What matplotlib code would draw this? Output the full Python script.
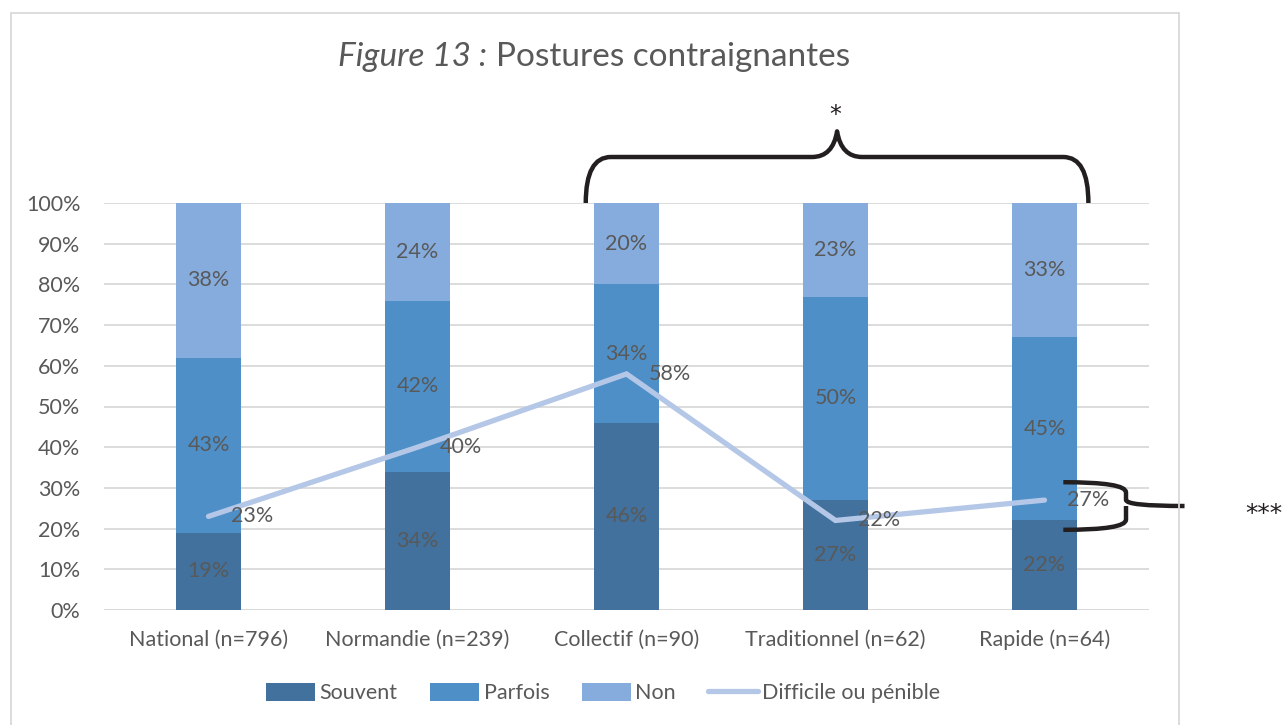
import numpy as np
import matplotlib
matplotlib.use('Agg')
import matplotlib.pyplot as plt
from matplotlib.patches import Rectangle, PathPatch
from matplotlib.path import Path

plt.rcParams['font.family'] = ['Lato', 'DejaVu Sans']

# données
categories = ['National (n=796)', 'Normandie (n=239)', 'Collectif (n=90)',
              'Traditionnel (n=62)', 'Rapide (n=64)']
souvent = [19, 34, 46, 27, 22]
parfois = [43, 42, 34, 50, 45]
non = [38, 24, 20, 23, 33]
difficile = [23, 40, 58, 22, 27]

c_souvent = '#41719C'
c_parfois = '#4E8FC8'
c_non = '#85ACDD'
c_line = '#B4C7E7'
c_txt = '#595959'
fs = 15.5

W, H = 1287, 725
fig = plt.figure(figsize=(W / 100, H / 100), dpi=100)
ax = fig.add_axes([104 / W, 1 - 610 / H, (1149 - 104) / W, (610 - 203) / H])

x = np.arange(len(categories))
bw = 0.315
b1 = ax.bar(x, souvent, bw, color=c_souvent, label='Souvent', zorder=2)
bot2 = np.array(souvent)
b2 = ax.bar(x, parfois, bw, bottom=bot2, color=c_parfois, label='Parfois', zorder=2)
bot3 = bot2 + np.array(parfois)
b3 = ax.bar(x, non, bw, bottom=bot3, color=c_non, label='Non', zorder=2)
ln, = ax.plot(x, difficile, color=c_line, lw=3.8, solid_capstyle='round',
              solid_joinstyle='miter', label='Difficile ou pénible', zorder=3)

# étiquettes des barres
for vals, bots in [(souvent, np.zeros(5)), (parfois, bot2), (non, bot3)]:
    for i, (v, b) in enumerate(zip(vals, bots)):
        ax.text(i, b + v / 2, f'{v}%', ha='center', va='center',
                fontsize=fs, color=c_txt, zorder=4)
for i, v in enumerate(difficile):
    ax.annotate(f'{v}%', (i, v), xytext=(16, 0), textcoords='offset points',
                ha='left', va='center', fontsize=fs, color=c_txt, zorder=4)

ax.set_xlim(-0.5, 4.5)
ax.set_ylim(0, 100)
ax.set_yticks(np.arange(0, 101, 10))
ax.set_yticklabels([f'{v}%' for v in range(0, 101, 10)])
ax.set_xticks(x)
ax.set_xticklabels(categories)
ax.tick_params(axis='both', length=0, labelsize=fs, colors=c_txt)
ax.tick_params(axis='y', pad=17)
ax.tick_params(axis='x', pad=14)
ax.grid(axis='y', color='#D9D9D9', lw=1.3, zorder=0)
for s in ax.spines.values():
    s.set_visible(False)
ax.axhline(0, color='#D9D9D9', lw=1.3, zorder=1)

# accolades
def brace_top(x0, x1, yb, yt, yp):
    xm = (x0 + x1) / 2
    d = 0.12
    verts = [(x0, yb), (x0, yt), (x0 + d, yt),
             (xm - d, yt), (xm - 0.02, yt), (xm, yp),
             (xm + 0.02, yt), (xm + d, yt),
             (x1 - d, yt), (x1, yt), (x1, yb)]
    codes = [Path.MOVETO, Path.CURVE3, Path.CURVE3,
             Path.LINETO, Path.CURVE3, Path.CURVE3,
             Path.CURVE3, Path.CURVE3,
             Path.LINETO, Path.CURVE3, Path.CURVE3]
    return Path(verts, codes)

def brace_right(x0, xv, xt, ytop, ybot):
    ym = (ytop + ybot) / 2
    verts = [(x0, ytop), (xv, ytop), (xv, ytop - 2.5),
             (xv, ym + 1.5), (xv, ym), (xt, ym),
             (xv, ym), (xv, ym - 1.5),
             (xv, ybot + 2.5), (xv, ybot), (x0, ybot)]
    codes = [Path.MOVETO, Path.CURVE3, Path.CURVE3,
             Path.LINETO, Path.CURVE3, Path.CURVE3,
             Path.MOVETO, Path.CURVE3, Path.CURVE3,
             Path.CURVE3, Path.CURVE3]
    return Path(verts, codes)

ax.add_patch(PathPatch(brace_top(1.805, 4.21, 100, 111.3, 117.6), fill=False,
                       lw=3.2, ec='#231F20', clip_on=False, zorder=5,
                       capstyle='butt', joinstyle='round'))
ax.text(3.0, 121.5, '*', ha='center', va='center', fontsize=17,
        color='#231F20', family='DejaVu Sans')
ax.add_patch(PathPatch(brace_right(4.09, 4.39, 4.67, 31.4, 19.7), fill=False,
                       lw=3.2, ec='#231F20', clip_on=False, zorder=5,
                       capstyle='butt', joinstyle='round'))
fig.text(1264 / W, 1 - 514 / H, '***', ha='center', va='center',
         fontsize=18, color='#231F20', family='DejaVu Sans')

# titre
fig.text(487 / W, 1 - 57 / H, 'Figure 13 :', ha='right', va='center',
         fontsize=24, color=c_txt, style='italic')
fig.text(496 / W, 1 - 57 / H, 'Postures contraignantes', ha='left', va='center',
         fontsize=24, color=c_txt)

# légende
fig.legend(handles=[b1, b2, b3, ln], loc='center', bbox_to_anchor=(603 / W, 1 - 693 / H),
           ncol=4, frameon=False, fontsize=fs, labelcolor=c_txt,
           handlelength=2.3, handleheight=0.9, handletextpad=0.2, columnspacing=1.5)

# cadre
fig.patches.append(Rectangle((11 / W, -0.01), (1179 - 11) / W, 1 - 13 / H + 0.01,
                             transform=fig.transFigure, fill=False,
                             ec='#D9D9D9', lw=1.3))

fig.savefig('out.png', dpi=100)
